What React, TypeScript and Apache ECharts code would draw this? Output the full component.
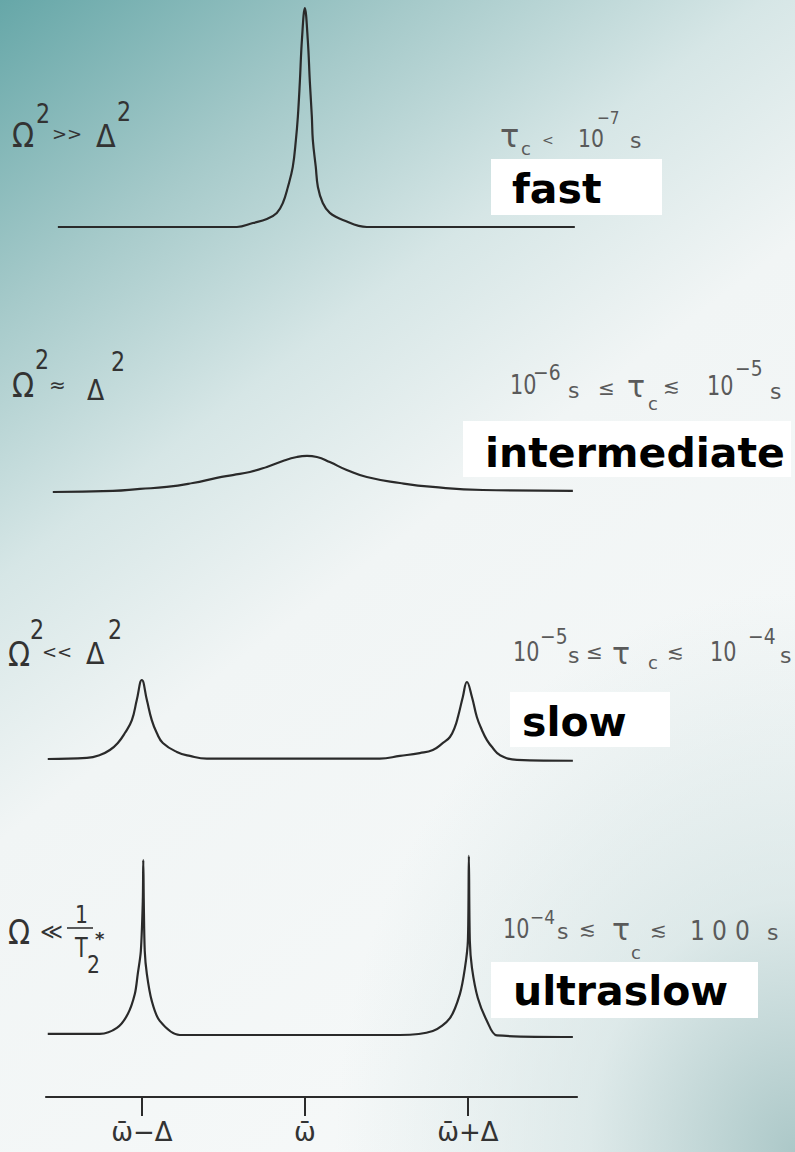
import React, { useEffect, useRef } from "react";
import * as echarts from "echarts";

// Frequency in units of Δ, measured from the mean frequency ω̄
const tickValues = [-1, 0, 1];
const tickLabels = ["ω̄−Δ", "ω̄", "ω̄+Δ"];

// Spectra: [frequency offset / Δ, intensity]
const fastSpectrum: [number, number][] = [
  [-1.515, 0], [-0.417, 0], [-0.319, 0.018], [-0.233, 0.036], [-0.172, 0.064],
  [-0.135, 0.109], [-0.104, 0.182], [-0.074, 0.273], [-0.055, 0.395], [-0.043, 0.5],
  [-0.031, 0.655], [-0.018, 0.85], [0, 0.995], [0.018, 0.85], [0.031, 0.655],
  [0.043, 0.5], [0.049, 0.395], [0.067, 0.273], [0.08, 0.182], [0.11, 0.109],
  [0.153, 0.064], [0.233, 0.032], [0.38, 0], [1.656, 0],
];

const intermediateSpectrum: [number, number][] = [
  [-1.546, 0], [-1.178, 0.005], [-1.011, 0.014], [-0.847, 0.023], [-0.687, 0.041],
  [-0.54, 0.064], [-0.442, 0.077], [-0.337, 0.091], [-0.233, 0.114], [-0.135, 0.141],
  [-0.049, 0.159], [0.013, 0.164], [0.074, 0.159], [0.153, 0.136], [0.257, 0.1],
  [0.38, 0.068], [0.583, 0.041], [0.785, 0.023], [1.092, 0.009], [1.644, 0.005],
];

const slowSpectrum: [number, number][] = [
  [-1.577, 0], [-1.337, 0.005], [-1.257, 0.018], [-1.196, 0.041], [-1.147, 0.073],
  [-1.104, 0.118], [-1.061, 0.177], [-1.031, 0.268], [-1.0, 0.359], [-0.969, 0.268],
  [-0.939, 0.177], [-0.908, 0.118], [-0.871, 0.073], [-0.785, 0.032], [-0.705, 0.014],
  [-0.601, 0.002], [0.46, 0.002], [0.583, 0.014], [0.705, 0.027], [0.785, 0.041],
  [0.847, 0.073], [0.89, 0.1], [0.92, 0.145], [0.939, 0.191], [0.969, 0.282],
  [0.994, 0.35], [1.025, 0.282], [1.055, 0.191], [1.086, 0.132], [1.117, 0.086],
  [1.153, 0.05], [1.196, 0.018], [1.301, -0.004], [1.644, -0.008],
];

const ultraslowSpectrum: [number, number][] = [
  [-1.577, 0.005], [-1.258, 0.005], [-1.153, 0.032], [-1.086, 0.095], [-1.043, 0.186],
  [-1.025, 0.277], [-1.006, 0.382], [-0.994, 0.609], [-0.991, 0.795], [-0.988, 0.609],
  [-0.982, 0.382], [-0.969, 0.277], [-0.939, 0.155], [-0.89, 0.064], [-0.767, 0],
  [0.583, 0], [0.785, 0.018], [0.89, 0.077], [0.951, 0.186], [0.982, 0.305],
  [1.0, 0.427], [1.006, 0.814], [1.012, 0.427], [1.025, 0.305], [1.061, 0.168],
  [1.117, 0.064], [1.178, -0.002], [1.644, -0.009],
];

const regimeNames = ["fast", "intermediate", "slow", "ultraslow"];
const smoothness = [0.4, 0.5, 0.45, 0.3];

const FONT = '"DejaVu Sans", sans-serif';
const LEFT_INK = "#333333";
const RIGHT_INK = "#5a5a5a";

type Piece = { t: string; x: number; y: number; s: number; sx?: number; c?: string; w?: string };

function txt(p: Piece) {
  return {
    type: "text",
    x: p.x,
    y: p.y,
    scaleX: p.sx ?? 1,
    silent: true,
    style: {
      text: p.t,
      fill: p.c ?? LEFT_INK,
      font: `${p.w ?? "normal"} ${p.s}px ${FONT}`,
      align: "left",
      verticalAlign: "middle",
    },
  };
}

// Conditions on the left
const leftLabels: Piece[] = [
  { t: "Ω", x: 12, y: 135, s: 34, sx: 0.85 },
  { t: "2", x: 36, y: 114, s: 26, sx: 0.85 },
  { t: ">>", x: 52, y: 133, s: 18 },
  { t: "Δ", x: 96, y: 136, s: 32, sx: 0.9 },
  { t: "2", x: 117, y: 112, s: 26, sx: 0.85 },

  { t: "Ω", x: 12, y: 385, s: 34, sx: 0.85 },
  { t: "2", x: 35, y: 360, s: 26, sx: 0.85 },
  { t: "≈", x: 49, y: 385, s: 20 },
  { t: "Δ", x: 87, y: 390, s: 28, sx: 0.9 },
  { t: "2", x: 111, y: 362, s: 26, sx: 0.85 },

  { t: "Ω", x: 8, y: 654, s: 34, sx: 0.85 },
  { t: "2", x: 30, y: 630, s: 26, sx: 0.85 },
  { t: "<<", x: 42, y: 651, s: 18 },
  { t: "Δ", x: 86, y: 654, s: 30, sx: 0.9 },
  { t: "2", x: 108, y: 630, s: 26, sx: 0.85 },

  { t: "Ω", x: 8, y: 932, s: 34, sx: 0.85 },
  { t: "≪", x: 40, y: 931, s: 22 },
  { t: "1", x: 75, y: 914, s: 24, sx: 0.85 },
  { t: "T", x: 75, y: 948, s: 26, sx: 0.8 },
  { t: "2", x: 87, y: 964, s: 24, sx: 0.85 },
  { t: "*", x: 95, y: 938, s: 18, w: "bold" },
];

// Correlation-time ranges on the right
const rightLabels: Piece[] = [
  { t: "τ", x: 500, y: 136, s: 32 },
  { t: "c", x: 521, y: 148, s: 18 },
  { t: "<", x: 542, y: 140, s: 14 },
  { t: "10", x: 578, y: 138, s: 24, sx: 0.85 },
  { t: "−7", x: 597, y: 118, s: 18, sx: 0.85 },
  { t: "s", x: 630, y: 140, s: 22 },

  { t: "10", x: 510, y: 385, s: 26, sx: 0.8 },
  { t: "−6", x: 533, y: 372, s: 22, sx: 0.85 },
  { t: "s", x: 568, y: 390, s: 22 },
  { t: "≤", x: 598, y: 388, s: 20 },
  { t: "τ", x: 627, y: 386, s: 30 },
  { t: "c", x: 648, y: 403, s: 18 },
  { t: "≲", x: 663, y: 386, s: 20 },
  { t: "10", x: 707, y: 386, s: 26, sx: 0.8 },
  { t: "−5", x: 735, y: 368, s: 22, sx: 0.85 },
  { t: "s", x: 770, y: 391, s: 22 },

  { t: "10", x: 513, y: 652, s: 26, sx: 0.8 },
  { t: "−5", x: 540, y: 636, s: 22, sx: 0.85 },
  { t: "s", x: 568, y: 655, s: 22 },
  { t: "≤", x: 586, y: 652, s: 20 },
  { t: "τ", x: 612, y: 653, s: 30 },
  { t: "c", x: 648, y: 662, s: 18 },
  { t: "≲", x: 667, y: 652, s: 20 },
  { t: "10", x: 710, y: 652, s: 26, sx: 0.8 },
  { t: "−4", x: 748, y: 636, s: 22, sx: 0.85 },
  { t: "s", x: 780, y: 655, s: 22 },

  { t: "10", x: 503, y: 929, s: 26, sx: 0.8 },
  { t: "−4", x: 530, y: 917, s: 20, sx: 0.85 },
  { t: "s", x: 557, y: 931, s: 22 },
  { t: "≲", x: 579, y: 929, s: 20 },
  { t: "τ", x: 612, y: 929, s: 30 },
  { t: "c", x: 631, y: 952, s: 18 },
  { t: "≲", x: 650, y: 930, s: 20 },
  { t: "1", x: 690, y: 931, s: 26, sx: 0.9 },
  { t: "0", x: 712, y: 931, s: 26, sx: 0.9 },
  { t: "0", x: 735, y: 931, s: 26, sx: 0.9 },
  { t: "s", x: 767, y: 932, s: 22 },
].map((p) => ({ ...p, c: RIGHT_INK }));

// White tags with the regime names
const tags = [
  { box: [491, 159, 171, 56], tx: 512, ty: 189 },
  { box: [463, 421, 328, 56], tx: 485, ty: 453 },
  { box: [510, 692, 160, 55], tx: 522, ty: 722 },
  { box: [491, 962, 267, 56], tx: 513, ty: 991 },
];

const spectra = [fastSpectrum, intermediateSpectrum, slowSpectrum, ultraslowSpectrum];
const baselines = [227, 492, 759, 1035];
const PANEL_H = 220;
const X_MIN = -1.6;
const X_MAX = 1.7;

export default function App() {
  const ref = useRef<HTMLDivElement>(null);

  useEffect(() => {
    if (!ref.current) return;
    const chart = echarts.init(ref.current, undefined, { renderer: "svg" });

    const grids: any[] = baselines.map((b) => ({ left: 44, width: 538, top: b - PANEL_H, height: PANEL_H }));
    grids.push({ left: 46, width: 531, top: 1090, height: 7 });

    const xAxes: any[] = baselines.map((_, i) => ({
      type: "value", gridIndex: i, min: X_MIN, max: X_MAX, show: false,
    }));
    xAxes.push({
      type: "value",
      gridIndex: 4,
      min: -1.588,
      max: 1.67,
      position: "bottom",
      splitLine: { show: false },
      axisLine: { show: true, lineStyle: { color: "#2b2b2b", width: 2.2 } },
      axisTick: {
        show: true,
        customValues: tickValues,
        length: 19,
        lineStyle: { color: "#2b2b2b", width: 2 },
      },
      axisLabel: {
        show: true,
        customValues: tickValues,
        margin: 22,
        fontSize: 26,
        fontFamily: FONT,
        color: "#333",
        formatter: (v: number) => tickLabels[tickValues.indexOf(Math.round(v))] ?? "",
      },
    });

    const yAxes: any[] = [0, 1, 2, 3, 4].map((i) => ({
      type: "value", gridIndex: i, min: 0, max: 1, show: false,
    }));

    const series: any[] = spectra.map((d, i) => ({
      type: "line",
      name: regimeNames[i],
      xAxisIndex: i,
      yAxisIndex: i,
      data: d,
      smooth: smoothness[i],
      showSymbol: false,
      clip: false,
      lineStyle: { color: "#2a2a2a", width: 2.2 },
    }));

    const graphic: any[] = [];
    tags.forEach((t, i) => {
      graphic.push({
        type: "rect",
        shape: { x: t.box[0], y: t.box[1], width: t.box[2], height: t.box[3] },
        style: { fill: "#ffffff" },
        silent: true,
      });
      graphic.push(txt({ t: regimeNames[i], x: t.tx, y: t.ty, s: 41, c: "#000", w: "bold" }));
    });
    leftLabels.forEach((p) => graphic.push(txt(p)));
    rightLabels.forEach((p) => graphic.push(txt(p)));
    // fraction bar of 1/T2*
    graphic.push({
      type: "line",
      shape: { x1: 67, y1: 928, x2: 93, y2: 928 },
      style: { stroke: LEFT_INK, lineWidth: 1.6 },
      silent: true,
    });

    chart.setOption({
      animation: false,
      backgroundColor: "transparent",
      grid: grids,
      xAxis: xAxes,
      yAxis: yAxes,
      series,
      graphic,
    });

    return () => chart.dispose();
  }, []);

  return (
    <div
      style={{
        position: "absolute",
        left: 0,
        top: 0,
        width: 795,
        height: 1152,
        background:
          "radial-gradient(ellipse 460px 560px at 100% 100%, rgba(172,200,200,1) 0%, rgba(205,223,223,0.6) 45%, rgba(248,250,250,0) 100%), " +
          "linear-gradient(143deg, #66a7a8 0%, #a6caca 18%, #d6e6e6 33%, #f1f5f5 48%, #f8fafa 100%)",
      }}
    >
      <div ref={ref} style={{ width: 795, height: 1152 }} />
    </div>
  );
}
